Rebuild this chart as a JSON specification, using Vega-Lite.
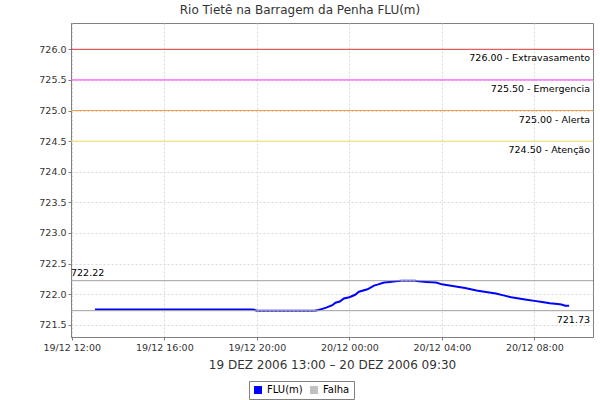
{
  "$schema": "https://vega.github.io/schema/vega-lite/v6.json",
  "width": 522,
  "height": 314,
  "autosize": {"type": "none"},
  "padding": {"left": 71, "top": 23, "right": 7, "bottom": 63},
  "background": "white",
  "title": {"text": "Rio Tietê na Barragem da Penha FLU(m)", "font": "DejaVu Sans", "fontSize": 12, "fontWeight": "normal", "color": "#333333", "anchor": "middle", "dx": -32, "offset": 6},
  "config": {
    "view": {"stroke": "#808080", "strokeWidth": 1},
    "axis": {"labelFont": "DejaVu Sans", "labelFontSize": 9.5, "labelColor": "#333333", "grid": true, "gridColor": "#d9d9d9", "gridDash": [2, 2], "domainColor": "#808080", "tickColor": "#808080", "tickSize": 3, "titleFont": "DejaVu Sans", "titleFontWeight": "normal", "titleColor": "#333333", "labelFlush": false, "labelOverlap": false}
  },
  "datasets": {
    "serie": [
      {"t": "2006-12-19T13:00:00", "v": 721.75, "falha": null},
      {"t": "2006-12-19T14:00:00", "v": 721.75, "falha": null},
      {"t": "2006-12-19T15:00:00", "v": 721.75, "falha": null},
      {"t": "2006-12-19T16:00:00", "v": 721.75, "falha": null},
      {"t": "2006-12-19T17:00:00", "v": 721.75, "falha": null},
      {"t": "2006-12-19T18:00:00", "v": 721.75, "falha": null},
      {"t": "2006-12-19T19:00:00", "v": 721.75, "falha": null},
      {"t": "2006-12-19T19:50:00", "v": 721.75, "falha": null},
      {"t": "2006-12-19T20:00:00", "v": 721.73, "falha": "a"},
      {"t": "2006-12-19T21:00:00", "v": 721.73, "falha": "a"},
      {"t": "2006-12-19T22:00:00", "v": 721.73, "falha": "a"},
      {"t": "2006-12-19T22:30:00", "v": 721.73, "falha": "a"},
      {"t": "2006-12-19T22:40:00", "v": 721.74, "falha": null},
      {"t": "2006-12-19T22:50:00", "v": 721.76, "falha": null},
      {"t": "2006-12-19T23:00:00", "v": 721.78, "falha": null},
      {"t": "2006-12-19T23:16:00", "v": 721.82, "falha": null},
      {"t": "2006-12-19T23:24:00", "v": 721.86, "falha": null},
      {"t": "2006-12-19T23:35:00", "v": 721.88, "falha": null},
      {"t": "2006-12-19T23:46:00", "v": 721.93, "falha": null},
      {"t": "2006-12-20T00:00:00", "v": 721.95, "falha": null},
      {"t": "2006-12-20T00:15:00", "v": 721.99, "falha": null},
      {"t": "2006-12-20T00:25:00", "v": 722.04, "falha": null},
      {"t": "2006-12-20T00:47:00", "v": 722.08, "falha": null},
      {"t": "2006-12-20T01:04:00", "v": 722.14, "falha": null},
      {"t": "2006-12-20T01:15:00", "v": 722.16, "falha": null},
      {"t": "2006-12-20T01:30:00", "v": 722.19, "falha": null},
      {"t": "2006-12-20T01:45:00", "v": 722.2, "falha": null},
      {"t": "2006-12-20T02:00:00", "v": 722.21, "falha": null},
      {"t": "2006-12-20T02:15:00", "v": 722.22, "falha": "b"},
      {"t": "2006-12-20T02:50:00", "v": 722.22, "falha": "b"},
      {"t": "2006-12-20T03:00:00", "v": 722.21, "falha": null},
      {"t": "2006-12-20T03:20:00", "v": 722.2, "falha": null},
      {"t": "2006-12-20T03:45:00", "v": 722.19, "falha": null},
      {"t": "2006-12-20T04:00:00", "v": 722.16, "falha": null},
      {"t": "2006-12-20T04:20:00", "v": 722.14, "falha": null},
      {"t": "2006-12-20T04:40:00", "v": 722.12, "falha": null},
      {"t": "2006-12-20T05:00:00", "v": 722.1, "falha": null},
      {"t": "2006-12-20T05:30:00", "v": 722.06, "falha": null},
      {"t": "2006-12-20T05:50:00", "v": 722.04, "falha": null},
      {"t": "2006-12-20T06:20:00", "v": 722.01, "falha": null},
      {"t": "2006-12-20T06:40:00", "v": 721.98, "falha": null},
      {"t": "2006-12-20T07:00:00", "v": 721.95, "falha": null},
      {"t": "2006-12-20T07:20:00", "v": 721.93, "falha": null},
      {"t": "2006-12-20T07:40:00", "v": 721.91, "falha": null},
      {"t": "2006-12-20T08:00:00", "v": 721.89, "falha": null},
      {"t": "2006-12-20T08:20:00", "v": 721.87, "falha": null},
      {"t": "2006-12-20T08:40:00", "v": 721.85, "falha": null},
      {"t": "2006-12-20T09:00:00", "v": 721.84, "falha": null},
      {"t": "2006-12-20T09:10:00", "v": 721.83, "falha": null},
      {"t": "2006-12-20T09:20:00", "v": 721.81, "falha": null},
      {"t": "2006-12-20T09:30:00", "v": 721.81, "falha": null}
    ],
    "niveis": [
      {"nivel": "Extravasamento", "v": 726.0, "rotulo": "726.00 - Extravasamento", "lado": "direita_baixo"},
      {"nivel": "Emergencia", "v": 725.5, "rotulo": "725.50 - Emergencia", "lado": "direita_baixo"},
      {"nivel": "Alerta", "v": 725.0, "rotulo": "725.00 - Alerta", "lado": "direita_baixo"},
      {"nivel": "Atenção", "v": 724.5, "rotulo": "724.50 - Atenção", "lado": "direita_baixo"},
      {"nivel": "Máximo", "v": 722.22, "rotulo": "722.22", "lado": "esquerda_cima"},
      {"nivel": "Mínimo", "v": 721.73, "rotulo": "721.73", "lado": "direita_baixo"}
    ]
  },
  "encoding": {
    "y": {"field": "v", "type": "quantitative",
      "scale": {"domain": [721.3, 726.43], "zero": false, "nice": false},
      "axis": {"title": null, "format": ".1f", "values": [721.5, 722.0, 722.5, 723.0, 723.5, 724.0, 724.5, 725.0, 725.5, 726.0]}}
  },
  "layer": [
    {
      "data": {"name": "serie"},
      "mark": {"type": "line", "strokeWidth": 2},
      "encoding": {
        "x": {"field": "t", "type": "temporal",
          "scale": {"domain": [{"year": 2006, "month": 12, "date": 19, "hours": 11, "minutes": 58}, {"year": 2006, "month": 12, "date": 20, "hours": 10, "minutes": 32}]},
          "axis": {"format": "%d/%m %H:%M", "title": "19 DEZ 2006 13:00 – 20 DEZ 2006 09:30", "titleFontSize": 12, "titlePadding": 8,
            "values": [
              {"year": 2006, "month": 12, "date": 19, "hours": 12},
              {"year": 2006, "month": 12, "date": 19, "hours": 16},
              {"year": 2006, "month": 12, "date": 19, "hours": 20},
              {"year": 2006, "month": 12, "date": 20, "hours": 0},
              {"year": 2006, "month": 12, "date": 20, "hours": 4},
              {"year": 2006, "month": 12, "date": 20, "hours": 8}
            ]}},
        "color": {"datum": "FLU(m)",
          "scale": {"domain": ["FLU(m)", "Falha"], "range": ["#0000ff", "#c0c0c0"]},
          "legend": {"title": null, "orient": "none", "legendX": 178, "legendY": 358, "direction": "horizontal",
            "symbolType": "square", "symbolSize": 64, "symbolStrokeWidth": 0,
            "labelFont": "DejaVu Sans", "labelFontSize": 10, "labelColor": "#000000",
            "strokeColor": "#808080", "padding": 4, "columnPadding": 6,
            "encode": {"symbols": {"update": {"fill": {"scale": "color", "field": "value"}, "strokeWidth": {"value": 0}}}}}}
      }
    },
    {
      "data": {"name": "serie"},
      "transform": [{"filter": "datum.falha != null"}],
      "mark": {"type": "line", "strokeWidth": 2, "color": "#c0c0c0", "opacity": 0.6, "strokeDash": [2, 2]},
      "encoding": {
        "x": {"field": "t", "type": "temporal"},
        "detail": {"field": "falha"}
      }
    },
    {
      "data": {"name": "niveis"},
      "mark": {"type": "rule", "strokeWidth": 1},
      "encoding": {
        "stroke": {"field": "nivel", "type": "nominal", "legend": null,
          "scale": {"domain": ["Extravasamento", "Emergencia", "Alerta", "Atenção", "Máximo", "Mínimo"], "range": ["#e03a3a", "#ff33ff", "#f0a050", "#f0e060", "#a0a0a0", "#a0a0a0"]}}
      }
    },
    {
      "data": {"name": "niveis"},
      "transform": [{"filter": "datum.lado == 'direita_baixo'"}],
      "mark": {"type": "text", "align": "right", "baseline": "top", "dx": -3, "dy": 4, "font": "DejaVu Sans", "fontSize": 9.5, "color": "#000000"},
      "encoding": {
        "x": {"datum": {"year": 2006, "month": 12, "date": 20, "hours": 10, "minutes": 32}, "type": "temporal"},
        "text": {"field": "rotulo", "type": "nominal"}
      }
    },
    {
      "data": {"name": "niveis"},
      "transform": [{"filter": "datum.lado == 'esquerda_cima'"}],
      "mark": {"type": "text", "align": "left", "baseline": "bottom", "dx": 0, "dy": -3, "font": "DejaVu Sans", "fontSize": 9.5, "color": "#000000"},
      "encoding": {
        "x": {"datum": {"year": 2006, "month": 12, "date": 19, "hours": 11, "minutes": 58}, "type": "temporal"},
        "text": {"field": "rotulo", "type": "nominal"}
      }
    }
  ]
}
